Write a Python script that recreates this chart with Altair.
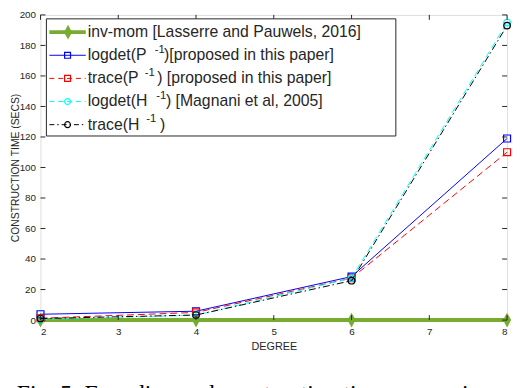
import altair as alt
import pandas as pd

# ---------------- data ----------------
degree = [2, 4, 6, 8]
inv_mom = [0.0, 0.0, 0.0, 0.0]
logdet_P = [3.8, 5.8, 28.5, 119.0]
trace_P = [1.2, 5.0, 27.5, 110.0]
logdet_H = [0.5, 3.2, 27.5, 195.0]
trace_H = [1.0, 3.3, 25.8, 193.0]

x_ticks = [2, 3, 4, 5, 6, 7, 8]
y_ticks = list(range(0, 201, 20))

# ---------------- layout / style ----------------
W, H = 474, 310
FONT = "Liberation Sans"
INK = "#262626"
GREEN = "#77AC30"
DIAMOND = "M0,-1L0.55,0L0,1L-0.55,0Z"

xs = alt.Scale(domain=[2, 8], nice=False, zero=False)
ys = alt.Scale(domain=[0, 200], nice=False)

x_axis = alt.Axis(values=x_ticks, format="d", ticks=False, domain=False, grid=False,
                  labelPadding=7, labelFontSize=10, labelFont=FONT, labelColor=INK,
                  title="DEGREE", titleFont=FONT, titleFontSize=11, titleFontWeight="normal",
                  titleColor=INK, titleY=27, titleBaseline="middle")
y_axis = alt.Axis(values=y_ticks, ticks=False, domain=False, grid=False,
                  labelPadding=5, labelFontSize=10, labelFont=FONT, labelColor=INK,
                  title="CONSTRUCTION TIME (SECS)", titleFont=FONT, titleFontSize=10.5,
                  titleFontWeight="normal", titleColor=INK, titleX=-25.5, titleY=H / 2,
                  titleBaseline="middle", titleAlign="center", titleAngle=-90)

X = alt.X("x:Q", scale=xs, axis=x_axis)
Y = alt.Y("y:Q", scale=ys, axis=y_axis)

series = [
    # name, values, color, dash, shape, size, width
    ("inv_mom", inv_mom, GREEN, None, DIAMOND, 225, 4),
    ("logdet_P", logdet_P, "#0000FF", None, "square", 50, 1),
    ("trace_P", trace_P, "#FF0000", [7, 4], "square", 50, 1),
    ("logdet_H", logdet_H, "#00FFFF", [7, 4], "circle", 45, 1),
    ("trace_H", trace_H, "#000000", [7, 3, 1.5, 3], "circle", 45, 1),
]

layers = []
for name, vals, col, dash, shape, size, sw in series:
    df = pd.DataFrame({"x": degree, "y": vals})
    line_kw = dict(color=col, strokeWidth=sw)
    if dash:
        line_kw["strokeDash"] = dash
    layers.append(alt.Chart(df).mark_line(**line_kw).encode(x=X, y=Y))
    if shape == DIAMOND:
        layers.append(alt.Chart(df).mark_point(shape=shape, size=size, filled=True,
                                               color=col, opacity=1).encode(x=X, y=Y))
    else:
        layers.append(alt.Chart(df).mark_point(shape=shape, size=size, filled=False,
                                               color=col, strokeWidth=1.2, opacity=1).encode(x=X, y=Y))

# inward tick marks on all four sides (MATLAB style box)
xt = pd.DataFrame({"x": x_ticks})
yt = pd.DataFrame({"y": y_ticks})
tick = dict(color=INK, strokeWidth=1)
layers.append(alt.Chart(xt).mark_rule(**tick).encode(x=X, y=alt.value(H), y2=alt.value(H - 5)))
layers.append(alt.Chart(xt).mark_rule(**tick).encode(x=X, y=alt.value(0), y2=alt.value(5)))
layers.append(alt.Chart(yt).mark_rule(**tick).encode(y=Y, x=alt.value(0), x2=alt.value(5)))
layers.append(alt.Chart(yt).mark_rule(**tick).encode(y=Y, x=alt.value(W), x2=alt.value(W - 5)))

# ---------------- legend (drawn by hand) ----------------
one = pd.DataFrame({"k": [0]})
layers.append(alt.Chart(one).mark_rect(fill="white", stroke=INK, strokeWidth=1).encode(
    x=alt.value(6), x2=alt.value(361), y=alt.value(4), y2=alt.value(123)))

legend_rows = [
    ("inv-mom [Lasserre and Pauwels, 2016]", None, None, None, None),
    ("logdet(P", "-1", ")[proposed in this paper]", 116, 125.5),
    ("trace(P", "-1", ") [proposed in this paper]", 106, 118.5),
    ("logdet(H", "-1", ") [Magnani et al, 2005]", 117.5, 127.5),
    ("trace(H", "-1", ")", 107.5, 121.5),
]
row_y = [17.5, 41, 64.5, 88, 111.5]

for (name, vals, col, dash, shape, size, sw), (t1, sup, t2, xs_sup, xs_t2), ry in zip(series, legend_rows, row_y):
    rk = dict(color=col, strokeWidth=sw)
    if dash:
        rk["strokeDash"] = [5, 4] if len(dash) == 2 else [5, 3, 1.5, 3]
    layers.append(alt.Chart(one).mark_rule(**rk).encode(
        x=alt.value(9), x2=alt.value(46), y=alt.value(ry)))
    if shape == DIAMOND:
        layers.append(alt.Chart(one).mark_point(shape=shape, size=size, filled=True, color=col,
                                                opacity=1).encode(x=alt.value(28), y=alt.value(ry)))
    else:
        layers.append(alt.Chart(one).mark_point(shape=shape, size=36, filled=False, color=col,
                                                strokeWidth=1.2, opacity=1).encode(
            x=alt.value(27.5), y=alt.value(ry)))
    tk = dict(align="left", baseline="middle", font=FONT, fontSize=16, color=INK)
    layers.append(alt.Chart(one).mark_text(**tk).encode(
        x=alt.value(48), y=alt.value(ry), text=alt.value(t1)))
    if sup:
        layers.append(alt.Chart(one).mark_text(align="left", baseline="middle", font=FONT,
                                               fontSize=11.5, color=INK).encode(
            x=alt.value(xs_sup), y=alt.value(ry - 5.5), text=alt.value(sup)))
        layers.append(alt.Chart(one).mark_text(**tk).encode(
            x=alt.value(xs_t2), y=alt.value(ry), text=alt.value(t2)))

# caption (only the tops of its letters show at the bottom edge, as in the reference)
layers.append(alt.Chart(one).mark_text(align="left", baseline="alphabetic",
                                       font="Liberation Serif", fontSize=24, color="#000000").encode(
    x=alt.value(-24), y=alt.value(392), text=alt.value("Fig. 5: Encoding and construction time comparison")))

chart = alt.layer(*layers).properties(
    width=W, height=H,
    autosize=alt.AutoSizeParams(type="none"),
    padding={"left": 33, "top": 4, "right": 5, "bottom": 66},
).configure_view(stroke=INK, strokeWidth=1).configure(background="white")

chart.save("out.html", embed_options={"renderer": "svg", "actions": False})
